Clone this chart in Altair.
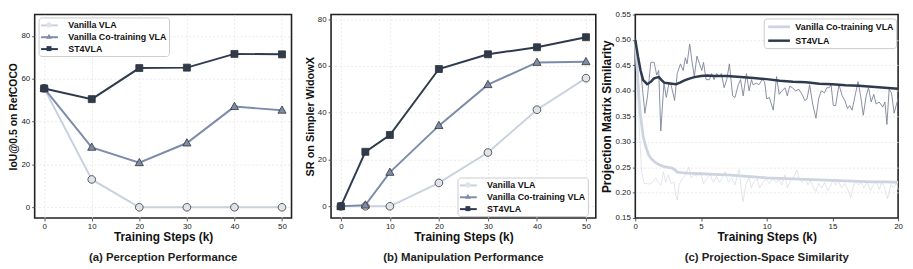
import altair as alt
import pandas as pd

FONT = "Liberation Sans"

# ---------------- data ----------------
SERIES = ["Vanilla VLA", "Vanilla Co-training VLA", "ST4VLA"]
LINE_COLORS = ["#c9d1de", "#7d8ca8", "#2e3a4e"]
FILL_COLORS = ["#dfe3ea", "#7d8ca8", "#2e3a4e"]

# (a) Perception performance
A_STEPS = [0, 10, 20, 30, 40, 50]
A_VANILLA = [55.5, 13.0, 0.0, 0.0, 0.0, 0.0]
A_COTRAIN = [55.5, 28.0, 20.8, 30.0, 47.0, 45.3]
A_ST4VLA = [55.5, 50.5, 65.0, 65.2, 71.6, 71.4]

# (b) Manipulation performance
B_STEPS = [0, 5, 10, 20, 30, 40, 50]
B_VANILLA = [0.0, 0.0, 0.0, 10.0, 23.0, 41.3, 54.8]
B_COTRAIN = [0.0, 0.5, 14.5, 34.5, 52.0, 61.5, 61.8]
B_ST4VLA = [0.0, 23.3, 30.5, 58.7, 65.0, 68.0, 72.3]

# (c) Projection-space similarity
C_SERIES = ["Vanilla Co-training VLA", "ST4VLA"]

RAW_ST_X = [0.0, 0.43, 0.73, 0.93, 1.18, 1.43, 1.63, 1.78, 1.94, 2.18, 2.36, 2.56, 2.74,
            2.99, 3.19, 3.44, 3.64, 3.81, 3.94, 4.14, 4.31, 4.49, 4.69, 4.89, 5.06, 5.19,
            5.39, 5.64, 5.81, 5.99, 6.19, 6.39, 6.55, 6.76, 6.96, 7.16, 7.41, 7.59, 7.84,
            8.01, 8.21, 8.46, 8.66, 8.84, 8.96, 9.21, 9.41, 9.66, 9.84, 10.0, 10.2, 10.5,
            10.75, 10.95, 11.15, 11.4, 11.57, 11.75, 11.95, 12.2, 12.45, 12.7, 12.9, 13.07,
            13.27, 13.5, 13.75, 13.95, 14.15, 14.4, 14.57, 14.75, 14.9, 15.07, 15.25, 15.5,
            15.75, 15.95, 16.15, 16.32, 16.5, 16.7, 16.95, 17.15, 17.35, 17.57, 17.75, 17.95,
            18.15, 18.33, 18.57, 18.83, 19.0, 19.15, 19.32, 19.5, 19.7, 19.85, 20.0]
RAW_ST_Y = [0.497, 0.434, 0.356, 0.390, 0.456, 0.456, 0.431, 0.440, 0.321, 0.415, 0.387,
            0.415, 0.410, 0.381, 0.434, 0.453, 0.440, 0.465, 0.453, 0.492, 0.459, 0.428,
            0.468, 0.453, 0.440, 0.456, 0.422, 0.422, 0.434, 0.422, 0.434, 0.428, 0.434,
            0.406, 0.422, 0.453, 0.390, 0.387, 0.412, 0.422, 0.390, 0.434, 0.400, 0.422,
            0.412, 0.415, 0.412, 0.422, 0.418, 0.384, 0.387, 0.362, 0.428, 0.393, 0.400,
            0.406, 0.390, 0.409, 0.406, 0.400, 0.403, 0.393, 0.381, 0.384, 0.412, 0.374,
            0.346, 0.384, 0.400, 0.396, 0.406, 0.406, 0.412, 0.371, 0.371, 0.412, 0.390,
            0.381, 0.365, 0.371, 0.362, 0.387, 0.418, 0.390, 0.352, 0.390, 0.406, 0.378,
            0.393, 0.374, 0.378, 0.368, 0.378, 0.334, 0.403, 0.396, 0.356, 0.371, 0.384]

RAW_VA_X = [0.0, 0.3, 0.48, 0.68, 1.06, 1.31, 1.55, 1.73, 1.94, 2.14, 2.32, 2.5, 2.7, 2.95,
            3.07, 3.2, 3.32, 3.57, 3.82, 4.07, 4.25, 4.45, 4.7, 4.95, 5.2, 5.45, 5.7, 5.95,
            6.2, 6.4, 6.57, 6.83, 7.08, 7.33, 7.58, 7.9, 8.08, 8.2, 8.4, 8.66, 8.84, 9.0,
            9.27, 9.46, 9.7, 9.95, 10.2, 10.45, 10.7, 10.95, 11.15, 11.4, 11.57, 11.82, 12.07,
            12.32, 12.45, 12.7, 12.95, 13.15, 13.32, 13.57, 13.75, 13.95, 14.2, 14.4, 14.65,
            14.82, 15.07, 15.25, 15.45, 15.7, 15.95, 16.2, 16.4, 16.57, 16.75, 17.0, 17.2,
            17.4, 17.65, 17.9, 18.15, 18.33, 18.57, 18.75, 18.95, 19.2, 19.45, 19.65, 19.9, 20.0]
RAW_VA_Y = [0.500, 0.327, 0.239, 0.218, 0.217, 0.220, 0.229, 0.220, 0.215, 0.241, 0.220,
            0.235, 0.218, 0.220, 0.195, 0.185, 0.215, 0.227, 0.235, 0.250, 0.229, 0.235,
            0.232, 0.241, 0.218, 0.229, 0.235, 0.220, 0.232, 0.220, 0.227, 0.241, 0.220,
            0.229, 0.215, 0.246, 0.202, 0.182, 0.215, 0.229, 0.209, 0.220, 0.227, 0.209,
            0.220, 0.227, 0.218, 0.227, 0.220, 0.225, 0.215, 0.235, 0.209, 0.223, 0.232,
            0.245, 0.229, 0.220, 0.227, 0.215, 0.225, 0.209, 0.202, 0.218, 0.209, 0.220,
            0.204, 0.211, 0.225, 0.215, 0.223, 0.209, 0.218, 0.204, 0.190, 0.209, 0.223,
            0.215, 0.220, 0.209, 0.220, 0.204, 0.215, 0.223, 0.206, 0.220, 0.211, 0.188,
            0.215, 0.209, 0.220, 0.205]

SM_ST_X = [0.0, 0.2, 0.4, 0.6, 0.9, 1.2, 1.4, 1.6, 1.8, 2.0, 2.2, 2.5, 2.8, 3.1, 3.4, 3.7,
           4.0, 4.5, 5.0, 5.5, 6.0, 7.0, 8.0, 9.0, 10.0, 11.0, 12.0, 13.0, 14.0, 15.0,
           16.0, 17.0, 18.0, 19.0, 20.0]
SM_ST_Y = [0.500, 0.468, 0.440, 0.421, 0.413, 0.418, 0.424, 0.426, 0.427, 0.421, 0.416,
           0.415, 0.414, 0.413, 0.416, 0.420, 0.423, 0.427, 0.429, 0.430, 0.429, 0.429,
           0.427, 0.425, 0.423, 0.420, 0.418, 0.417, 0.414, 0.413, 0.411, 0.410, 0.408,
           0.406, 0.404]

SM_VA_X = [0.0, 0.1, 0.2, 0.3, 0.4, 0.6, 0.8, 1.0, 1.2, 1.4, 1.6, 1.8, 2.0, 2.2, 2.4, 2.6,
           2.8, 3.0, 3.2, 3.5, 4.0, 5.0, 6.0, 7.0, 8.0, 9.0, 10.0, 11.0, 12.0, 13.0, 14.0,
           15.0, 16.0, 17.0, 18.0, 19.0, 20.0]
SM_VA_Y = [0.500, 0.460, 0.420, 0.380, 0.350, 0.310, 0.290, 0.275, 0.267, 0.262, 0.258,
           0.255, 0.253, 0.251, 0.250, 0.249, 0.248, 0.245, 0.240, 0.239, 0.238, 0.237,
           0.236, 0.235, 0.233, 0.231, 0.229, 0.228, 0.227, 0.226, 0.225, 0.224, 0.223,
           0.222, 0.221, 0.221, 0.220]

# marker shapes (unit coordinates)
SHAPES = [
    "M0.55,0A0.55,0.55,0,1,1,-0.55,0A0.55,0.55,0,1,1,0.55,0Z",
    "M0,-0.62L0.58,0.42L-0.58,0.42Z",
    "M-0.5,-0.5H0.5V0.5H-0.5Z",
]

GRID = dict(grid=True, gridColor="#e4e4e4", gridDash=[2, 2], gridWidth=0.8, labelFlush=False)


def legend_common(x, y, offset, label_offset):
    return dict(orient="none", legendX=x, legendY=y, title=None, symbolSize=100,
                padding=2, rowPadding=1, symbolOffset=offset, labelOffset=label_offset,
                labelFont=FONT, labelFontSize=9, labelFontWeight="bold", labelColor="#111")


def perf_panel(steps, vals, width, ydom, xdom, ytitle, ytitle_size, caption, lx, ly):
    rows = []
    for s, v in zip(SERIES, vals):
        for xi, yi in zip(steps, v):
            rows.append({"step": xi, "value": yi, "series": s, "series_m": s})
    df = pd.DataFrame(rows)
    x = alt.X("step:Q", scale=alt.Scale(domain=xdom, nice=False, zero=False),
              axis=alt.Axis(values=[0, 10, 20, 30, 40, 50], title="Training Steps (k)",
                            titleFontSize=12, titlePadding=1, **GRID))
    y = alt.Y("value:Q", scale=alt.Scale(domain=ydom, nice=False, zero=False),
              axis=alt.Axis(values=[0, 20, 40, 60, 80], title=ytitle,
                            titleFontSize=ytitle_size, titlePadding=2, **GRID))
    lc = legend_common(lx, ly, 3, 13)
    line_leg = alt.Legend(symbolType="M-1.7,0H1.7", symbolStrokeWidth=2,
                          fillColor="#ffffff", strokeColor="#cccccc", cornerRadius=3,
                          zindex=1, **lc)
    mark_leg = alt.Legend(symbolStrokeColor="#333333", symbolStrokeWidth=0.8,
                          labelOpacity=0, zindex=2, **lc)
    lines = alt.Chart(df).mark_line(strokeWidth=2).encode(
        x=x, y=y,
        stroke=alt.Stroke("series:N", scale=alt.Scale(domain=SERIES, range=LINE_COLORS),
                          legend=line_leg, sort=SERIES),
    )
    pts = alt.Chart(df).mark_point(filled=True, size=200, stroke="#333333",
                                   strokeWidth=0.8, opacity=1).encode(
        x=x, y=y,
        fill=alt.Fill("series_m:N", scale=alt.Scale(domain=SERIES, range=FILL_COLORS),
                      legend=mark_leg, sort=SERIES),
        shape=alt.Shape("series_m:N", scale=alt.Scale(domain=SERIES, range=SHAPES),
                        legend=mark_leg, sort=SERIES),
    )
    return alt.layer(lines, pts).properties(
        width=width, height=206,
        title=alt.TitleParams(caption, orient="bottom", anchor="middle", frame="group",
                              font=FONT, fontSize=11.5, fontWeight="bold", color="#222",
                              offset=10),
    ).resolve_scale(stroke="independent", fill="independent", shape="independent")


panel_a = perf_panel(A_STEPS, [A_VANILLA, A_COTRAIN, A_ST4VLA], 260, [-5, 90], [-2, 52],
                     "IoU@0.5 on RefCOCO", 10.5, "(a) Perception Performance", 4, 3)
panel_b = perf_panel(B_STEPS, [B_VANILLA, B_COTRAIN, B_ST4VLA], 268, [-5, 82], [-2, 52],
                     "SR on Simpler WidowX", 11, "(b) Manipulation Performance", 128, 165)

# panel c
raw_st = pd.DataFrame({"step": RAW_ST_X, "value": RAW_ST_Y})
raw_va = pd.DataFrame({"step": RAW_VA_X, "value": RAW_VA_Y})
sm = pd.DataFrame(
    [{"step": a, "value": b, "series": "Vanilla Co-training VLA"} for a, b in zip(SM_VA_X, SM_VA_Y)]
    + [{"step": a, "value": b, "series": "ST4VLA"} for a, b in zip(SM_ST_X, SM_ST_Y)]
)
GRID_C = dict(GRID)
GRID_C["gridOpacity"] = {"condition": {"test": "datum.value <= 0.1501 || datum.value >= 0.5499 || datum.value == 0 || datum.value == 20", "value": 0}, "value": 1}
xc = alt.X("step:Q", scale=alt.Scale(domain=[0, 20], nice=False, zero=False),
           axis=alt.Axis(values=[0, 5, 10, 15, 20], title="Training Steps (k)",
                         titleFontSize=12, titlePadding=1, **GRID_C))
yc = alt.Y("value:Q", scale=alt.Scale(domain=[0.15, 0.55], nice=False, zero=False),
           axis=alt.Axis(values=[0.15, 0.2, 0.25, 0.3, 0.35, 0.4, 0.45, 0.5, 0.55],
                         format=".2f", title="Projection Matrix Similarity",
                         titleFontSize=12, titlePadding=2, **GRID_C))
c_raw_va = alt.Chart(raw_va).mark_line(strokeWidth=0.8, color="#d9dee7").encode(x=xc, y=yc)
c_raw_st = alt.Chart(raw_st).mark_line(strokeWidth=0.9, color="#7b8396").encode(x=xc, y=yc)
c_leg = alt.Legend(symbolType="M-2.2,0H2.2", symbolStrokeWidth=2.5, fillColor="#ffffff",
                   strokeColor="#cccccc", cornerRadius=3,
                   **legend_common(130, 4, 7, 10))
c_sm = alt.Chart(sm).mark_line().encode(
    x=xc, y=yc,
    stroke=alt.Stroke("series:N", scale=alt.Scale(domain=C_SERIES, range=["#cdd4e0", "#2e3a4e"]),
                      legend=c_leg, sort=C_SERIES),
    strokeWidth=alt.StrokeWidth("series:N", scale=alt.Scale(domain=C_SERIES, range=[2.8, 2.5]),
                                legend=None),
)
c_sm_va = c_sm.transform_filter(alt.datum.series == "Vanilla Co-training VLA")
c_sm_st = c_sm.transform_filter(alt.datum.series == "ST4VLA")
panel_c = alt.layer(c_raw_va, c_sm_va, c_raw_st, c_sm_st).properties(
    width=266, height=206,
    title=alt.TitleParams("(c) Projection-Space Similarity", orient="bottom", anchor="middle",
                          frame="group", font=FONT, fontSize=11.5, fontWeight="bold",
                          color="#222", offset=10),
)

chart = alt.hconcat(panel_a, panel_b, panel_c, spacing=40, bounds="flush").resolve_scale(
    stroke="independent", fill="independent", shape="independent", strokeWidth="independent"
).resolve_legend(stroke="independent", fill="independent", shape="independent").configure(
    padding=0, background="white",
).configure_view(stroke="#222222", strokeWidth=1.6).configure_axis(
    domain=False, tickColor="#333333", tickSize=3, tickWidth=0.8, labelPadding=2,
    labelFont=FONT, labelFontSize=8, labelColor="#222222", titleFont=FONT,
    titleFontWeight="bold", titleColor="#111111",
)

chart.save("out.html", embed_options={"renderer": "svg", "actions": False})
